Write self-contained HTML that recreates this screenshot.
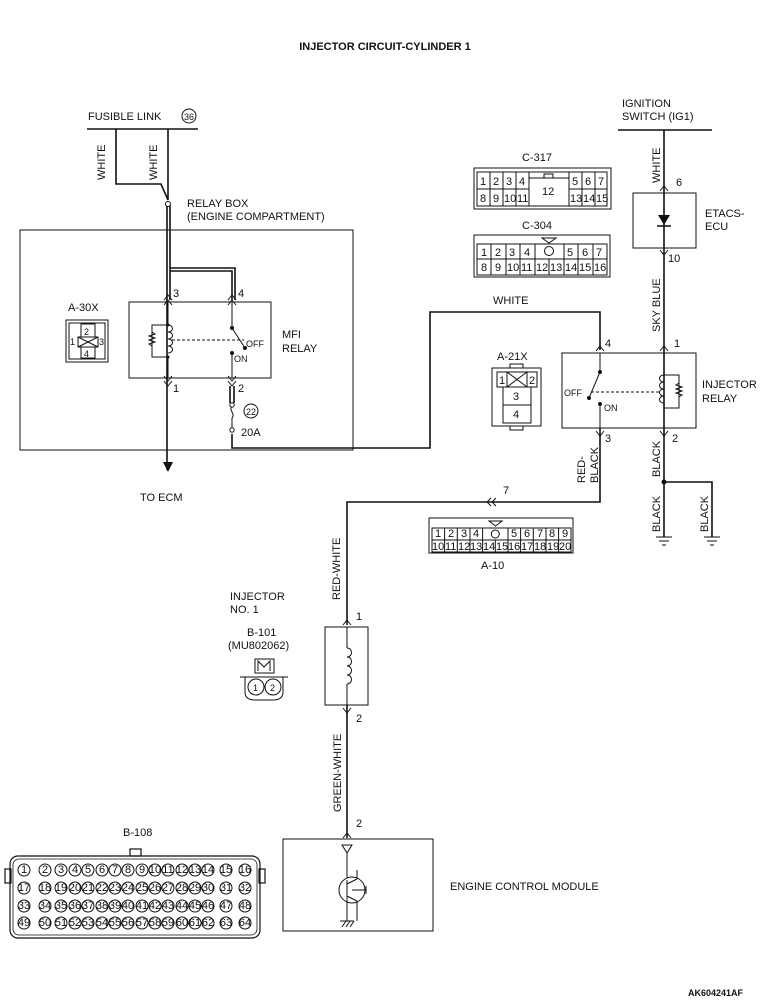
<!DOCTYPE html>
<html><head><meta charset="utf-8"><style>
html,body{margin:0;padding:0;background:#fff;width:770px;height:1000px;overflow:hidden}
svg{display:block}
text{font-family:"Liberation Sans",sans-serif;fill:#111;font-size:11px}
.s{font-size:9px}
.t{font-size:8px}
</style></head><body>
<svg width="770" height="1000" viewBox="0 0 770 1000" xmlns="http://www.w3.org/2000/svg">
<g stroke="#111" fill="none" stroke-width="1">
<!-- title -->
</g>
<text x="385" y="50" text-anchor="middle" font-weight="bold" style="font-size:11px">INJECTOR CIRCUIT-CYLINDER 1</text>

<!-- LEFT: fusible link -->
<text x="88" y="120">FUSIBLE LINK</text>
<circle cx="189" cy="116" r="7" fill="none" stroke="#111"/>
<text x="189" y="120" text-anchor="middle" class="s">36</text>
<g stroke="#111" fill="none" stroke-width="1.6">
<line x1="87" y1="129" x2="198" y2="129"/>
<polyline points="116,129 116,184 161,184 168,200"/>
<line x1="168" y1="129" x2="168" y2="200"/>
<line x1="167" y1="205" x2="167" y2="470"/>
<line x1="170" y1="205" x2="170" y2="300"/>
<polyline points="170,268 235,268 235,300"/>
<polyline points="170,271 232,271 232,300"/>
<line x1="20" y1="230" x2="353" y2="230" stroke-width="1"/>
<rect x="-5" y="230" width="298" height="0"/>
</g>
<g stroke="#111" fill="none" stroke-width="1">
<rect x="20" y="230" width="333" height="220"/>
<circle cx="168" cy="204" r="2.5" fill="#fff"/>
</g>
<text x="105" y="180" transform="rotate(-90 105 180)">WHITE</text>
<text x="157" y="180" transform="rotate(-90 157 180)">WHITE</text>
<text x="187" y="207">RELAY BOX</text>
<text x="187" y="220">(ENGINE COMPARTMENT)</text>

<!-- MFI relay -->
<g stroke="#111" fill="none" stroke-width="1">
<rect x="129" y="302" width="142" height="76"/>
<path d="M164,300 l4,-5 l4,5 M164,305 l4,-5 l4,5 M228,300 l4,-5 l4,5 M228,305 l4,-5 l4,5"/>
<path d="M164,381 l4,5 l4,-5 M164,376 l4,5 l4,-5 M228,381 l4,5 l4,-5 M228,376 l4,5 l4,-5"/>
<line x1="168" y1="302" x2="168" y2="325"/>
<line x1="168" y1="357" x2="168" y2="378"/>
<path d="M168,325 c6,0 6,7 0,7 c6,0 6,7 0,7 c6,0 6,7 0,7 c6,0 6,7 0,7 "/>
<polyline points="168,325 152,325 152,357 168,357"/>
<path d="M152,332 l3,2 l-6,2 l6,2 l-6,2 l6,2 l-6,2 l3,2"/>
<line x1="172" y1="340" x2="244" y2="340" stroke-dasharray="3,2"/>
<line x1="232" y1="302" x2="232" y2="328"/>
<line x1="232" y1="328" x2="245" y2="348"/>
<line x1="232" y1="353" x2="232" y2="378"/>
</g>
<g fill="#111"><circle cx="232" cy="328" r="2"/><circle cx="245" cy="348" r="2"/><circle cx="232" cy="353" r="2"/><circle cx="168" cy="325" r="1.5"/><circle cx="168" cy="357" r="1.5"/></g>
<text x="246" y="347" class="s">OFF</text>
<text x="234" y="362" class="s">ON</text>
<text x="173" y="297">3</text><text x="238" y="297">4</text>
<text x="173" y="392">1</text><text x="238" y="392">2</text>
<text x="282" y="338">MFI</text><text x="282" y="352">RELAY</text>
<!-- fuse & wire -->
<g stroke="#111" fill="none" stroke-width="1.6">
<line x1="230" y1="386" x2="230" y2="403"/><line x1="234" y1="386" x2="234" y2="403"/>
<path d="M232,406 c-4,4 4,8 0,12 l0,10" stroke-width="1"/>
<polyline points="232,434 232,448 430,448 430,312 600,312 600,350"/>
<polygon points="163,462 173,462 168,472" fill="#111" stroke="none"/>
</g>
<circle cx="232" cy="405" r="2.2" fill="#fff" stroke="#111"/>
<circle cx="232" cy="430" r="2.2" fill="#fff" stroke="#111"/>
<circle cx="251" cy="411" r="7" fill="none" stroke="#111"/>
<text x="251" y="415" text-anchor="middle" class="s">22</text>
<text x="241" y="436">20A</text>
<text x="140" y="501">TO ECM</text>
<text x="493" y="304">WHITE</text>

<!-- A-30X -->
<text x="68" y="311">A-30X</text>
<g stroke="#111" fill="none" stroke-width="1">
<rect x="66" y="320" width="42" height="42"/>
<rect x="69" y="323" width="36" height="36"/>
<rect x="81" y="324" width="14" height="13"/>
<rect x="78" y="337" width="20" height="10"/>
<line x1="78" y1="337" x2="98" y2="347"/><line x1="98" y1="337" x2="78" y2="347"/>
<rect x="81" y="347" width="14" height="11"/>
</g>
<text x="84" y="335" class="s">2</text><text x="70" y="345" class="s">1</text><text x="99" y="345" class="s">3</text><text x="84" y="357" class="s">4</text>

<!-- RIGHT: ignition -->
<text x="622" y="107">IGNITION</text><text x="622" y="120">SWITCH (IG1)</text>
<g stroke="#111" fill="none" stroke-width="1.6">
<line x1="618" y1="130" x2="712" y2="130"/>
<line x1="664" y1="130" x2="664" y2="537"/>
<polyline points="664,482 712,482 712,537"/>
<polyline points="600,428 600,502 347,502 347,625"/>
<line x1="347" y1="705" x2="347" y2="838"/>
</g>
<g stroke="#111" fill="none" stroke-width="1">
<rect x="633" y="193" width="63" height="55"/>
<path d="M660,191 l4,-5 l4,5 M660,250 l4,5 l4,-5 M660,351 l4,-5 l4,5 M596,351 l4,-5 l4,5 M660,431 l4,5 l4,-5 M596,431 l4,5 l4,-5"/>
<path d="M343,625 l4,-5 l4,5 M343,708 l4,5 l4,-5 M343,838 l4,-5 l4,5 M491,498 l-4,4 l4,4 M496,498 l-4,4 l4,4"/>
<rect x="562" y="353" width="134" height="75"/>
<line x1="600" y1="353" x2="600" y2="372"/>
<line x1="600" y1="372" x2="589" y2="398"/>
<line x1="600" y1="404" x2="600" y2="428"/>
<line x1="591" y1="392" x2="660" y2="392" stroke-dasharray="3,2"/>
<path d="M664,375 c-6,0 -6,7 0,7 c-6,0 -6,7 0,7 c-6,0 -6,7 0,7 c-6,0 -6,7 0,7"/>
<polyline points="664,375 679,375 679,408 664,408"/>
<path d="M679,383 l-3,2 l6,2 l-6,2 l6,2 l-6,2 l6,2 l-3,2"/>
<!-- grounds -->
<path d="M656,537 h16 M659,541 h10 M662,545 h4 M704,537 h16 M707,541 h10 M710,545 h4"/>
</g>
<polygon points="658,215 670,215 664,225" fill="#111"/><line x1="657" y1="226" x2="671" y2="226" stroke="#111" stroke-width="1.5"/>
<g fill="#111"><circle cx="600" cy="372" r="2"/><circle cx="589" cy="398" r="2"/><circle cx="600" cy="404" r="2"/><circle cx="664" cy="482" r="2.5"/></g>
<text x="660" y="183" transform="rotate(-90 660 183)">WHITE</text>
<text x="676" y="186">6</text>
<text x="705" y="217">ETACS-</text><text x="705" y="230">ECU</text>
<text x="668" y="262">10</text>
<text x="660" y="332" transform="rotate(-90 660 332)">SKY BLUE</text>
<text x="674" y="347">1</text><text x="605" y="347">4</text>
<text x="605" y="442">3</text><text x="672" y="442">2</text>
<text x="564" y="396" class="s">OFF</text><text x="604" y="411" class="s">ON</text>
<text x="702" y="388">INJECTOR</text><text x="702" y="402">RELAY</text>
<text x="585" y="483" transform="rotate(-90 585 483)">RED-</text>
<text x="598" y="483" transform="rotate(-90 598 483)">BLACK</text>
<text x="660" y="477" transform="rotate(-90 660 477)">BLACK</text>
<text x="660" y="532" transform="rotate(-90 660 532)">BLACK</text>
<text x="708" y="532" transform="rotate(-90 708 532)">BLACK</text>
<text x="503" y="494">7</text>

<!-- C-317 -->
<text x="522" y="161">C-317</text>
<g stroke="#111" fill="none" stroke-width="1">
<rect x="474" y="168" width="137" height="41"/>
<rect x="477" y="172" width="130" height="34"/>
<path d="M477,189 h52 M569,189 h38 M490,172 v34 M503,172 v34 M516,172 v34 M529,172 v34 M569,172 v34 M582,172 v34 M595,172 v34 M529,178 h40"/>
<rect x="544" y="174" width="9" height="4"/>
</g>
<g class="s"><text x="480" y="185">1</text><text x="493" y="185">2</text><text x="506" y="185">3</text><text x="519" y="185">4</text><text x="572" y="185">5</text><text x="585" y="185">6</text><text x="598" y="185">7</text>
<text x="480" y="202">8</text><text x="493" y="202">9</text><text x="504" y="202">10</text><text x="517" y="202">11</text><text x="542" y="195">12</text><text x="570" y="202">13</text><text x="583" y="202">14</text><text x="596" y="202">15</text></g>
<!-- C-304 -->
<text x="522" y="229">C-304</text>
<g stroke="#111" fill="none" stroke-width="1">
<rect x="474" y="235" width="136" height="42"/>
<rect x="477" y="244" width="130" height="31"/>
<path d="M477,259 h130 M491,244 v31 M506,244 v31 M520,244 v31 M535,244 v31 M549,259 v16 M564,244 v31 M578,244 v31 M593,244 v31 M542,238 h14 l-7,5 z"/>
<circle cx="549" cy="251" r="4.5"/>
</g>
<g class="s"><text x="481" y="256">1</text><text x="495" y="256">2</text><text x="509" y="256">3</text><text x="524" y="256">4</text><text x="567" y="256">5</text><text x="582" y="256">6</text><text x="596" y="256">7</text>
<text x="481" y="271">8</text><text x="495" y="271">9</text><text x="507" y="271">10</text><text x="521" y="271">11</text><text x="536" y="271">12</text><text x="550" y="271">13</text><text x="565" y="271">14</text><text x="579" y="271">15</text><text x="594" y="271">16</text></g>

<!-- A-21X -->
<text x="497" y="360">A-21X</text>
<g stroke="#111" fill="none" stroke-width="1">
<rect x="492" y="368" width="49" height="58"/>
<rect x="510" y="364" width="13" height="4"/><rect x="510" y="426" width="13" height="4"/>
<rect x="497" y="372" width="40" height="15"/>
<path d="M507,372 v15 M527,372 v15 M507,372 l20,15 M527,372 l-20,15"/>
<rect x="503" y="387" width="28" height="18"/><rect x="503" y="405" width="28" height="18"/>
</g>
<text x="499" y="384">1</text><text x="529" y="384">2</text><text x="513" y="400">3</text><text x="513" y="418">4</text>

<!-- A-10 -->
<g stroke="#111" fill="none" stroke-width="1">
<rect x="429" y="518" width="144" height="35"/>
<rect x="432" y="528" width="139" height="24"/>
<path d="M432,540 h139 M444.6,528 v24 M457.3,528 v24 M470,528 v24 M482.6,528 v24 M495.3,540 v12 M508,528 v24 M520.6,528 v24 M533.3,528 v24 M546,528 v24 M558.6,528 v24 M489,521 h13 l-6.5,5 z"/>
<circle cx="495.3" cy="534" r="4"/>
</g>
<g class="t"><text x="435" y="537">1</text><text x="448" y="537">2</text><text x="461" y="537">3</text><text x="473" y="537">4</text><text x="511" y="537">5</text><text x="524" y="537">6</text><text x="537" y="537">7</text><text x="549" y="537">8</text><text x="562" y="537">9</text>
<text x="432" y="550">10</text><text x="445" y="550">11</text><text x="458" y="550">12</text><text x="470" y="550">13</text><text x="483" y="550">14</text><text x="496" y="550">15</text><text x="508" y="550">16</text><text x="521" y="550">17</text><text x="534" y="550">18</text><text x="547" y="550">19</text><text x="559" y="550">20</text></g>
<text x="481" y="569">A-10</text>

<!-- Injector -->
<text x="340" y="600" transform="rotate(-90 340 600)">RED-WHITE</text>
<text x="356" y="620">1</text><text x="356" y="722">2</text>
<g stroke="#111" fill="none" stroke-width="1">
<rect x="325" y="627" width="43" height="78"/>
<line x1="347" y1="627" x2="347" y2="648"/><line x1="347" y1="684" x2="347" y2="705"/>
<path d="M347,648 c6,0 6,9 0,9 c6,0 6,9 0,9 c6,0 6,9 0,9 c6,0 6,9 0,9"/>
</g>
<text x="230" y="600">INJECTOR</text><text x="230" y="613">NO. 1</text>
<text x="247" y="636">B-101</text><text x="228" y="649">(MU802062)</text>
<g stroke="#111" fill="none" stroke-width="1">
<rect x="255" y="659" width="19" height="14"/>
<path d="M258,671 v-10 l6,6 l6,-6 v10"/>
<path d="M240,677 h48 M245,677 v15 q0,8 10,8 h18 q10,0 10,-8 v-15"/>
<circle cx="256" cy="687" r="8"/><circle cx="273" cy="687" r="8"/>
</g>
<text x="253" y="691" class="s">1</text><text x="270" y="691" class="s">2</text>
<text x="341" y="812" transform="rotate(-90 341 812)">GREEN-WHITE</text>
<text x="356" y="827">2</text>

<!-- ECM -->
<g stroke="#111" fill="none" stroke-width="1">
<rect x="283" y="839" width="150" height="92"/>
<polygon points="342,845 352,845 347,853"/>
<line x1="347" y1="853" x2="347" y2="878"/>
<circle cx="352" cy="890" r="13"/>
<line x1="347" y1="880" x2="347" y2="901"/>
<line x1="347" y1="884" x2="357" y2="879"/><line x1="347" y1="896" x2="357" y2="901"/>
<line x1="357" y1="879" x2="357" y2="870"/>
<path d="M357,901 v20 M347,901 v20 M352,890 h14 M366,886 v8"/>
<path d="M340,921 h14 M342,927 l4,-6 M346,927 l4,-6 M350,927 l4,-6"/>
</g>
<text x="450" y="890">ENGINE CONTROL MODULE</text>

<!-- B-108 -->
<text x="123" y="836">B-108</text>
<g stroke="#111" fill="none" stroke-width="1.2">
<rect x="130" y="849" width="11" height="7"/>
<rect x="5" y="869" width="6" height="14"/><rect x="259" y="869" width="6" height="14"/>
<rect x="10" y="856" width="250" height="82" rx="8"/>
<rect x="13" y="859" width="244" height="76" rx="6" stroke-width="0.8"/>
</g>
<g stroke="#111" fill="none" stroke-width="1">
<circle cx="24" cy="870" r="6"/><circle cx="45" cy="870" r="6"/><circle cx="61" cy="870" r="6"/><circle cx="75" cy="870" r="6"/><circle cx="88" cy="870" r="6"/><circle cx="102" cy="870" r="6"/><circle cx="115" cy="870" r="6"/><circle cx="128" cy="870" r="6"/><circle cx="142" cy="870" r="6"/><circle cx="155" cy="870" r="6"/><circle cx="168" cy="870" r="6"/><circle cx="182" cy="870" r="6"/><circle cx="195" cy="870" r="6"/><circle cx="208" cy="870" r="6"/><circle cx="226" cy="870" r="6"/><circle cx="245" cy="870" r="6"/>
<circle cx="24" cy="888" r="6"/><circle cx="45" cy="888" r="6"/><circle cx="61" cy="888" r="6"/><circle cx="75" cy="888" r="6"/><circle cx="88" cy="888" r="6"/><circle cx="102" cy="888" r="6"/><circle cx="115" cy="888" r="6"/><circle cx="128" cy="888" r="6"/><circle cx="142" cy="888" r="6"/><circle cx="155" cy="888" r="6"/><circle cx="168" cy="888" r="6"/><circle cx="182" cy="888" r="6"/><circle cx="195" cy="888" r="6"/><circle cx="208" cy="888" r="6"/><circle cx="226" cy="888" r="6"/><circle cx="245" cy="888" r="6"/>
<circle cx="24" cy="906" r="6"/><circle cx="45" cy="906" r="6"/><circle cx="61" cy="906" r="6"/><circle cx="75" cy="906" r="6"/><circle cx="88" cy="906" r="6"/><circle cx="102" cy="906" r="6"/><circle cx="115" cy="906" r="6"/><circle cx="128" cy="906" r="6"/><circle cx="142" cy="906" r="6"/><circle cx="155" cy="906" r="6"/><circle cx="168" cy="906" r="6"/><circle cx="182" cy="906" r="6"/><circle cx="195" cy="906" r="6"/><circle cx="208" cy="906" r="6"/><circle cx="226" cy="906" r="6"/><circle cx="245" cy="906" r="6"/>
<circle cx="24" cy="923" r="6"/><circle cx="45" cy="923" r="6"/><circle cx="61" cy="923" r="6"/><circle cx="75" cy="923" r="6"/><circle cx="88" cy="923" r="6"/><circle cx="102" cy="923" r="6"/><circle cx="115" cy="923" r="6"/><circle cx="128" cy="923" r="6"/><circle cx="142" cy="923" r="6"/><circle cx="155" cy="923" r="6"/><circle cx="168" cy="923" r="6"/><circle cx="182" cy="923" r="6"/><circle cx="195" cy="923" r="6"/><circle cx="208" cy="923" r="6"/><circle cx="226" cy="923" r="6"/><circle cx="245" cy="923" r="6"/>
</g>
<g style="font-size:7px" text-anchor="middle">
<text x="24" y="873">1</text><text x="45" y="873">2</text><text x="61" y="873">3</text><text x="75" y="873">4</text><text x="88" y="873">5</text><text x="102" y="873">6</text><text x="115" y="873">7</text><text x="128" y="873">8</text><text x="142" y="873">9</text><text x="155" y="873">10</text><text x="168" y="873">11</text><text x="182" y="873">12</text><text x="195" y="873">13</text><text x="208" y="873">14</text><text x="226" y="873">15</text><text x="245" y="873">16</text>
<text x="24" y="891">17</text><text x="45" y="891">18</text><text x="61" y="891">19</text><text x="75" y="891">20</text><text x="88" y="891">21</text><text x="102" y="891">22</text><text x="115" y="891">23</text><text x="128" y="891">24</text><text x="142" y="891">25</text><text x="155" y="891">26</text><text x="168" y="891">27</text><text x="182" y="891">28</text><text x="195" y="891">29</text><text x="208" y="891">30</text><text x="226" y="891">31</text><text x="245" y="891">32</text>
<text x="24" y="909">33</text><text x="45" y="909">34</text><text x="61" y="909">35</text><text x="75" y="909">36</text><text x="88" y="909">37</text><text x="102" y="909">38</text><text x="115" y="909">39</text><text x="128" y="909">40</text><text x="142" y="909">41</text><text x="155" y="909">42</text><text x="168" y="909">43</text><text x="182" y="909">44</text><text x="195" y="909">45</text><text x="208" y="909">46</text><text x="226" y="909">47</text><text x="245" y="909">48</text>
<text x="24" y="926">49</text><text x="45" y="926">50</text><text x="61" y="926">51</text><text x="75" y="926">52</text><text x="88" y="926">53</text><text x="102" y="926">54</text><text x="115" y="926">55</text><text x="128" y="926">56</text><text x="142" y="926">57</text><text x="155" y="926">58</text><text x="168" y="926">59</text><text x="182" y="926">60</text><text x="195" y="926">61</text><text x="208" y="926">62</text><text x="226" y="926">63</text><text x="245" y="926">64</text>
</g>

<text x="688" y="996" font-weight="bold" style="font-size:9px">AK604241AF</text>
</svg>
</body></html>
